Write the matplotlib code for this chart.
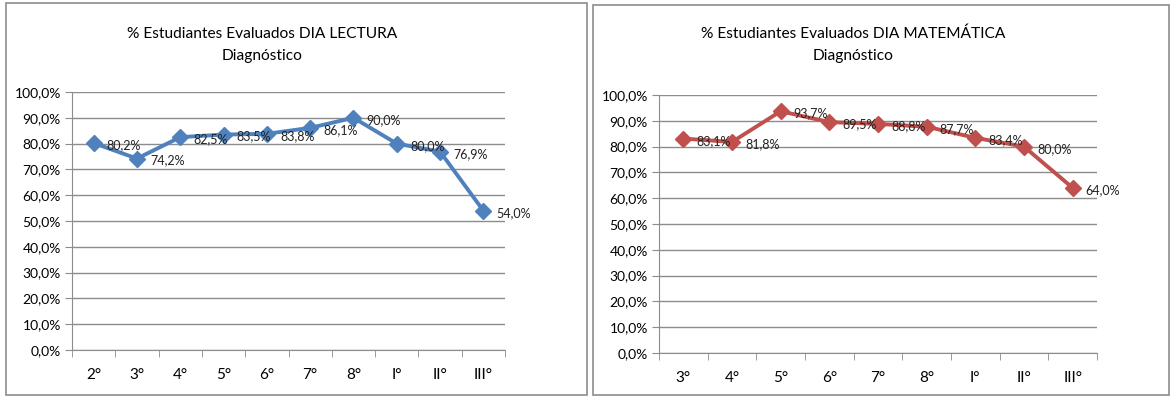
import matplotlib.pyplot as plt
from matplotlib.patches import Rectangle
from matplotlib.ticker import FuncFormatter, FixedLocator

plt.rcParams['font.family'] = ['Lato', 'DejaVu Sans']

# datos de lectura y matemática
cursos_lectura = ["2°", "3°", "4°", "5°", "6°", "7°", "8°", "I°", "II°", "III°"]
pct_lectura = [80.2, 74.2, 82.5, 83.5, 83.8, 86.1, 90.0, 80.0, 76.9, 54.0]

cursos_mate = ["3°", "4°", "5°", "6°", "7°", "8°", "I°", "II°", "III°"]
pct_mate = [83.1, 81.8, 93.7, 89.5, 88.8, 87.7, 83.4, 80.0, 64.0]

titulo_lectura = "% Estudiantes Evaluados DIA LECTURA\nDiagnóstico"
titulo_mate = "% Estudiantes Evaluados DIA MATEMÁTICA\nDiagnóstico"

fig = plt.figure(figsize=(11.72, 3.96), dpi=100)

# marcos de cada gráfico
fig.patches.append(Rectangle((6 / 1172, 1 - 395 / 396), 581 / 1172, 392 / 396,
                             transform=fig.transFigure, fill=False,
                             edgecolor="#8c8c8c", linewidth=1.2))
fig.patches.append(Rectangle((593 / 1172, 1 - 395 / 396), 576 / 1172, 390 / 396,
                             transform=fig.transFigure, fill=False,
                             edgecolor="#8c8c8c", linewidth=1.2))


def fmt_pct(v, pos=None):
    return f"{v:.1f}%".replace(".", ",")


def dibujar(ax, cursos, valores, color, titulo, title_x):
    n = len(cursos)
    xs = list(range(n))
    ax.plot(xs, valores, color=color, linewidth=2.8, marker="D",
            markersize=8, markeredgecolor=color, zorder=3, clip_on=False)
    for x, v in zip(xs, valores):
        ax.annotate(fmt_pct(v), (x, v), xytext=(9.5, -1.5), textcoords="offset points",
                    fontsize=9, color="#222222", va="center", ha="left",
                    annotation_clip=False, zorder=4)
    ax.set_xlim(-0.5, n - 0.5)
    ax.set_ylim(0, 100)
    ax.set_yticks(range(0, 101, 10))
    ax.yaxis.set_major_formatter(FuncFormatter(fmt_pct))
    ax.set_xticks(xs)
    ax.set_xticklabels(cursos)
    ax.xaxis.set_minor_locator(FixedLocator([i - 0.5 for i in range(n + 1)]))
    ax.tick_params(axis="x", which="major", length=0, pad=13, labelsize=11)
    ax.tick_params(axis="x", which="minor", length=5, color="#8c8c8c", direction="out")
    ax.tick_params(axis="y", length=5, color="#8c8c8c", labelsize=10, pad=3)
    ax.grid(axis="y", color="#8c8c8c", linewidth=1)
    ax.set_axisbelow(True)
    for s in ["top", "right"]:
        ax.spines[s].set_visible(False)
    for s in ["left", "bottom"]:
        ax.spines[s].set_color("#8c8c8c")
    fig.text(title_x, 1 - 45 / 396, titulo, ha="center", va="center",
             fontsize=11.2, linespacing=1.75)


ax1 = fig.add_axes([72 / 1172, 1 - 350 / 396, 433 / 1172, 258 / 396])
dibujar(ax1, cursos_lectura, pct_lectura, "#4F81BD", titulo_lectura, 262 / 1172)

ax2 = fig.add_axes([659 / 1172, 1 - 353 / 396, 438 / 1172, 258 / 396])
dibujar(ax2, cursos_mate, pct_mate, "#C0504D", titulo_mate, 853 / 1172)

fig.savefig("out.png", dpi=100)
